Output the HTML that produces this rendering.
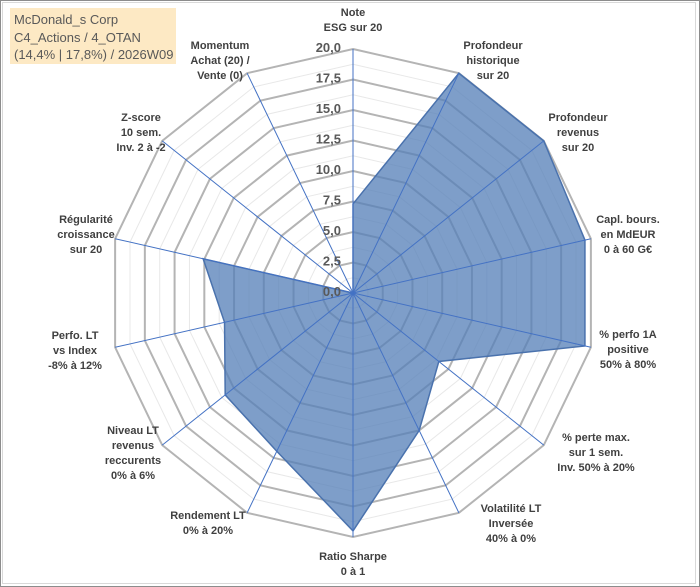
<!DOCTYPE html>
<html><head><meta charset="utf-8"><style>
html,body{margin:0;padding:0;background:#fff;}
#wrap{position:relative;width:698px;height:585px;border:1px solid #8c8c8c;background:#fff;overflow:hidden;}
#inner{position:absolute;left:1px;top:1px;width:692px;height:580px;border:1px solid #d9d9d9;}
#title{position:absolute;left:9px;top:7px;width:166px;height:56px;background:#fde9c4;color:#595959;font-family:"Liberation Sans",sans-serif;font-size:13px;line-height:17.5px;padding:3px 0 0 4px;box-sizing:border-box;}
svg{position:absolute;left:0;top:0;}
</style></head><body>
<div id="wrap">
<div id="inner"></div>
<svg id="chart" width="700" height="587"></svg>
<div id="title">McDonald_s Corp<br>C4_Actions / 4_OTAN<br>(14,4% | 17,8%) / 2026W09</div>
</div>
<script>
const categories=[["Note","ESG sur 20"],["Profondeur","historique","sur 20"],["Profondeur","revenus","sur 20"],["Capl. bours.","en MdEUR","0 à 60 G€"],["% perfo 1A","positive","50% à 80%"],["% perte max.","sur 1 sem.","Inv. 50% à 20%"],["Volatilité LT","Inversée","40% à 0%"],["Ratio Sharpe","0 à 1"],["Rendement LT","0% à 20%"],["Niveau LT","revenus","reccurents","0% à 6%"],["Perfo. LT","vs Index","-8% à 12%"],["Régularité","croissance","sur 20"],["Z-score","10 sem.","Inv. 2 à -2"],["Momentum","Achat (20) /","Vente (0)"]];
const values=[7.3,20,20,19.5,19.5,9.0,12.5,19.5,14.4,13.4,10.8,12.6,0,0];
const tickLabels=["0,0","2,5","5,0","7,5","10,0","12,5","15,0","17,5","20,0"];
const tickValues=[0,2.5,5,7.5,10,12.5,15,17.5,20];
const labelPos=[[352,15],[492,48],[577,120],[627,222],[627,337],[595,440],[510,511],[352,559],[207,518],[132,433],[74,338],[85,222],[140,120],[219,48]];
const NS="http://www.w3.org/2000/svg";
const svg=document.getElementById('chart');
const cx=352,cy=292,R=244,maxV=20,N=categories.length;
function ang(i){return i*2*Math.PI/N;}
function pt(i,v){const r=v/maxV*R;return [cx+r*Math.sin(ang(i)),cy-r*Math.cos(ang(i))];}
function mk(t,a){const e=document.createElementNS(NS,t);for(const k in a)e.setAttribute(k,a[k]);svg.appendChild(e);return e;}
for(let k=1;k<=16;k++){const v=k*1.25;const major=k%2===0;
 const p=[];for(let i=0;i<N;i++)p.push(pt(i,v).join(','));
 const el=mk('polygon',{points:p.join(' '),fill:'none',stroke:major?'#b4b4b4':'#e8e8e8','stroke-width':major?2:1});
 
 }
const sp=values.map((v,i)=>pt(i,v).join(',')).join(' ');
const poly=mk('polygon',{points:sp,fill:'#5580b8','fill-opacity':0.76,stroke:'#4a72ad','stroke-width':1.5});


for(let i=0;i<N;i++){const e=pt(i,maxV);
 const l=mk('line',{x1:cx,y1:cy,x2:e[0],y2:e[1],stroke:'#4472c4','stroke-width':1});
 
 }
tickValues.forEach((v,k)=>{const y=cy-v/maxV*R;
 const t=mk('text',{x:cx-12,y:y+3,'text-anchor':'end','font-family':'Liberation Sans, sans-serif','font-size':13,'font-weight':'bold',fill:'#595959'});
 t.textContent=tickLabels[k];
 
 });
categories.forEach((lines,i)=>{const [x,y]=labelPos[i];
 const t=mk('text',{x:x,y:y,'text-anchor':'middle','font-family':'Liberation Sans, sans-serif','font-size':11,'font-weight':'bold',fill:'#404040'});
 lines.forEach((s,j)=>{const ts=document.createElementNS(NS,'tspan');ts.setAttribute('x',x);ts.setAttribute('dy',j?15:0);ts.textContent=s;t.appendChild(ts);});
 
 });
</script>
</body></html>
